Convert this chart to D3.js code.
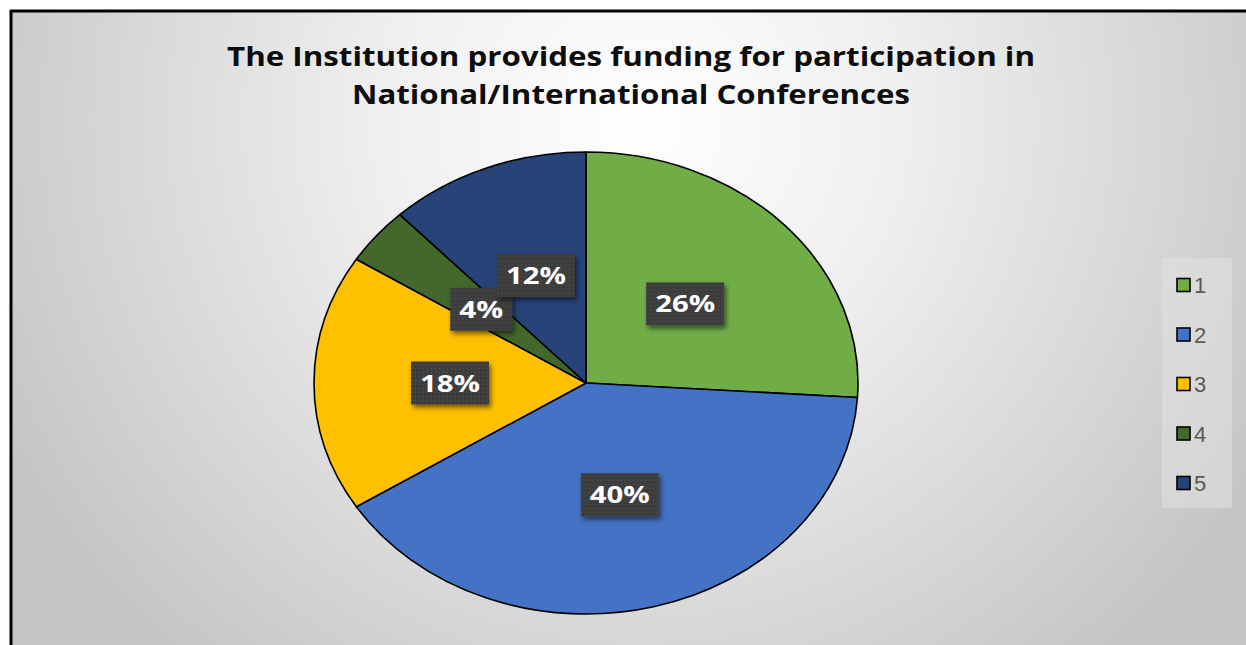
<!DOCTYPE html>
<html>
<head>
<meta charset="utf-8">
<script src="https://cdn.jsdelivr.net/npm/d3@7"></script>
<style>
  html, body { margin: 0; padding: 0; background: #ffffff; }
  svg { display: block; }
</style>
</head>
<body>
<svg id="chart" width="1246" height="645"></svg>
<script>
// ---- data ----
const categories = ["1", "2", "3", "4", "5"];
const values = [26, 40, 18, 4, 12];
const colors = ["#70AD47", "#4472C4", "#FFC000", "#43682B", "#264478"];
const titleLines = ["The Institution provides funding for participation in", "National/International Conferences"];

const W = 1246, H = 645;
const svg = d3.select("#chart");
const defs = svg.append("defs");

// background gradient
const bg = defs.append("radialGradient").attr("id", "bgGrad")
  .attr("gradientUnits", "userSpaceOnUse")
  .attr("cx", 640).attr("cy", 120).attr("r", 720);
bg.append("stop").attr("offset", "0%").attr("stop-color", "#ffffff");
bg.append("stop").attr("offset", "35%").attr("stop-color", "#f0f0f0");
bg.append("stop").attr("offset", "100%").attr("stop-color", "#c4c4c4");

// label box pattern
const pat = defs.append("pattern").attr("id", "dots").attr("patternUnits", "userSpaceOnUse")
  .attr("width", 4).attr("height", 4);
pat.append("rect").attr("width", 4).attr("height", 4).attr("fill", "#3d3d3d");
pat.append("rect").attr("x", 1).attr("y", 1).attr("width", 1).attr("height", 1).attr("fill", "#575757");

const shadow = defs.append("filter").attr("id", "shadow")
  .attr("x", "-30%").attr("y", "-30%").attr("width", "160%").attr("height", "160%");
shadow.append("feDropShadow").attr("dx", 2).attr("dy", 3).attr("stdDeviation", 2.5)
  .attr("flood-color", "#000").attr("flood-opacity", 0.55);

// chart area
svg.append("rect").attr("x", 10).attr("y", 10).attr("width", W - 10).attr("height", H - 10)
  .attr("fill", "url(#bgGrad)");
svg.append("line").attr("x1", 11).attr("y1", 10).attr("x2", 11).attr("y2", H).attr("stroke", "#000").attr("stroke-width", 3);
svg.append("line").attr("x1", 10).attr("y1", 11).attr("x2", W).attr("y2", 11).attr("stroke", "#000").attr("stroke-width", 3);

// title
const titleFont = "'Open Sans', 'Liberation Sans', sans-serif";
const titleWidths = [808, 558];
const titleY = [66, 104];
titleLines.forEach((t, i) => {
  svg.append("text").attr("x", 631).attr("y", titleY[i])
    .attr("text-anchor", "middle")
    .attr("font-family", titleFont).attr("font-weight", 700).attr("font-size", 27)
    .attr("fill", "#0d0d0d")
    .attr("textLength", titleWidths[i]).attr("lengthAdjust", "spacingAndGlyphs")
    .text(t);
});

// pie (ellipse: circle scaled horizontally)
const cx = 586, cy = 383, ry = 231, rx = 272;
const sx = rx / ry;
const pie = d3.pie().sort(null).value(d => d)(values);
const arc = d3.arc().innerRadius(0).outerRadius(ry);
const total = d3.sum(values);

const g = svg.append("g").attr("transform", `translate(${cx},${cy})`);
g.append("g").attr("transform", `scale(${sx},1)`)
  .selectAll("path").data(pie).join("path")
  .attr("d", arc)
  .attr("fill", (d, i) => colors[i])
  .attr("stroke", "#000").attr("stroke-width", 1.6)
  .attr("vector-effect", "non-scaling-stroke")
  .attr("stroke-linejoin", "round");

// labels
const lab = g.selectAll("g.lab").data(pie).join("g").attr("class", "lab")
  .attr("transform", d => { const c = arc.centroid(d); return `translate(${c[0] * sx},${c[1]})`; });
const fmt = d => Math.round(d.data / total * 100) + "%";
const textW = d => fmt(d).length === 2 ? 44 : 60;
lab.append("rect")
  .attr("x", d => -textW(d) / 2 - 9).attr("y", -21.5)
  .attr("width", d => textW(d) + 18).attr("height", 43)
  .attr("fill", "url(#dots)").attr("filter", "url(#shadow)");
lab.append("text")
  .attr("text-anchor", "middle").attr("y", 8.5)
  .attr("font-family", titleFont).attr("font-weight", 700).attr("font-size", 24)
  .attr("fill", "#ffffff")
  .attr("textLength", d => textW(d)).attr("lengthAdjust", "spacingAndGlyphs")
  .text(fmt);

// legend
const legend = svg.append("g");
legend.append("rect").attr("x", 1162).attr("y", 258).attr("width", 70).attr("height", 250)
  .attr("fill", "#e3e3e3").attr("opacity", 0.5);
const ly = d3.scalePoint().domain(categories).range([285, 483]);
const li = legend.selectAll("g.li").data(categories).join("g").attr("class", "li")
  .attr("transform", d => `translate(1177,${ly(d)})`);
li.append("rect").attr("x", 0).attr("y", -6.5).attr("width", 13).attr("height", 13)
  .attr("fill", (d, i) => colors[i]).attr("stroke", "#000").attr("stroke-width", 1.6);
li.append("text").attr("x", 17).attr("y", 8)
  .attr("font-family", "'Liberation Sans', 'Open Sans', sans-serif").attr("font-size", 22)
  .attr("fill", "#595959").text(d => d);
</script>
</body>
</html>
